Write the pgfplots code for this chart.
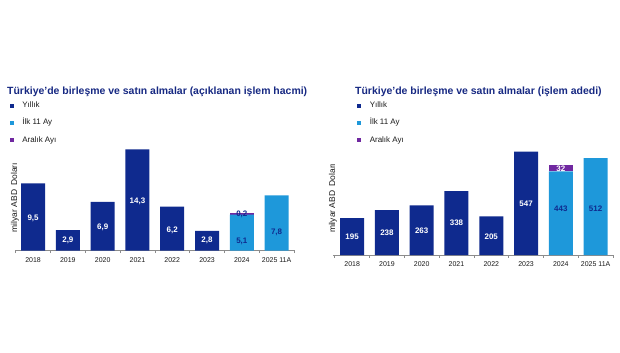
\documentclass[border=0pt]{standalone}
\usepackage{fontspec}
\setmainfont{Liberation Sans}
\usepackage{pgfplots}
\usepackage{pgfplotstable}
\pgfplotsset{compat=1.18}
\definecolor{navy}{RGB}{15,42,142}
\definecolor{lightb}{RGB}{30,152,218}
\definecolor{purp}{RGB}{112,40,160}
\definecolor{titlec}{RGB}{22,40,130}
\definecolor{axgray}{RGB}{140,140,140}

\pgfplotstableread{
x yillik ilk aralik
0 9.5 0 0
1 2.9 0 0
2 6.9 0 0
3 14.3 0 0
4 6.2 0 0
5 2.8 0 0
6 0 5.1 0.2
7 0 7.8 0
}\hacim

\pgfplotstableread{
x yillik ilk aralik
0 195 0 0
1 238 0 0
2 263 0 0
3 338 0 0
4 205 0 0
5 547 0 0
6 0 443 32
7 0 512 0
}\adet

\tikzset{
  vlab/.style={font=\bfseries\fontsize{8}{9}\selectfont, text=white, anchor=center},
  vlabd/.style={font=\bfseries\fontsize{8}{9}\selectfont, text=navy, anchor=center},
}

\pgfplotsset{
  sqlegend/.style={legend image code/.code={\fill[##1] (0bp,-2bp) rectangle (4bp,2bp);}},
  common/.style={
    scale only axis,
    anchor=south west,
    ybar stacked,
    bar width=24bp,
    enlargelimits=false,
    ymin=0,
    axis x line*=bottom,
    axis y line*=left,
    y axis line style={draw=none},
    x axis line style={draw=axgray, line width=0.6pt},
    ytick=\empty,
    xtick={0,...,7},
    xticklabels={2018,2019,2020,2021,2022,2023,2024,2025 11A},
    major tick length=0pt,
    minor xtick={-0.5,0.5,...,7.5},
    minor tick length=2.5bp,
    tick align=outside,
    minor tick style={draw=axgray, line width=0.5pt},
    xticklabel style={font=\fontsize{7}{8}\selectfont, text=black!90, yshift=-3bp},
    every axis y label/.style={at={(axis description cs:0,0.5)}, rotate=90, anchor=center, font=\fontsize{8.5}{9}\selectfont, text=black!90},
    ylabel={milyar ABD\hspace{2bp} Doları},
    clip=false,
    legend cell align=left,
    legend style={draw=none, fill=none, anchor=north west, inner sep=0pt,
      font=\fontsize{8}{9}\selectfont, text=black!90, row sep=10.2bp,
      nodes={inner sep=0pt, text height=5.5bp, text depth=1.5bp},
      /tikz/every odd column/.append style={column sep=8.5bp}},
  },
}

\begin{document}
\begin{tikzpicture}[x=1bp,y=1bp]
\path[use as bounding box] (0,0) rectangle (620,352);

\node[anchor=base west, font=\bfseries\fontsize{10.5}{12}\selectfont, text=titlec, inner sep=0pt] at (7bp,257.5bp) {Türkiye’de birleşme ve satın almalar (açıklanan işlem hacmi)};
\node[anchor=base west, font=\bfseries\fontsize{10.5}{12}\selectfont, text=titlec, inner sep=0pt] at (355bp,257.5bp) {Türkiye’de birleşme ve satın almalar (işlem adedi)};

\begin{axis}[common, at={(15bp,101.3bp)}, width=280bp, height=106.4bp,
  xmin=-0.52, xmax=7.53, ymax=15,
  legend style={at={(axis description cs:-0.019,1.398)}},
  after end axis/.code={
    \node[vlab] at (axis cs:0,4.6) {9,5};
    \node[vlab] at (axis cs:1,1.4) {2,9};
    \node[vlab] at (axis cs:2,3.3) {6,9};
    \node[vlab] at (axis cs:3,7.0) {14,3};
    \node[vlab] at (axis cs:4,2.9) {6,2};
    \node[vlab] at (axis cs:5,1.5) {2,8};
    \node[vlabd] at (axis cs:6,1.3) {5,1};
    \node[vlabd] at (axis cs:6,5.1) {0,2};
    \node[vlabd] at (axis cs:7,2.6) {7,8};
  }]
\addplot[fill=navy, draw=none, sqlegend] table[x=x, y=yillik] {\hacim};
\addplot[fill=lightb, draw=none, sqlegend] table[x=x, y=ilk] {\hacim};
\addplot[fill=purp, draw=none, sqlegend] table[x=x, y=aralik] {\hacim};
\legend{Yıllık, İlk 11 Ay, Aralık Ayı}
\end{axis}

\begin{axis}[common, at={(333bp,97bp)}, width=280bp, height=113.4bp,
  xmin=-0.55, xmax=7.5, ymax=600,
  legend style={at={(axis description cs:0.086,1.349)}},
  after end axis/.code={
    \node[vlab] at (axis cs:0,95) {195};
    \node[vlab] at (axis cs:1,118) {238};
    \node[vlab] at (axis cs:2,129) {263};
    \node[vlab] at (axis cs:3,168) {338};
    \node[vlab] at (axis cs:4,98) {205};
    \node[vlab] at (axis cs:5,272) {547};
    \node[vlabd] at (axis cs:6,247) {443};
    \node[vlab] at (axis cs:6,457) {32};
    \node[vlabd] at (axis cs:7,243) {512};
  }]
\addplot[fill=navy, draw=none, sqlegend] table[x=x, y=yillik] {\adet};
\addplot[fill=lightb, draw=none, sqlegend] table[x=x, y=ilk] {\adet};
\addplot[fill=purp, draw=none, sqlegend] table[x=x, y=aralik] {\adet};
\legend{Yıllık, İlk 11 Ay, Aralık Ayı}
\end{axis}
\end{tikzpicture}
\end{document}
